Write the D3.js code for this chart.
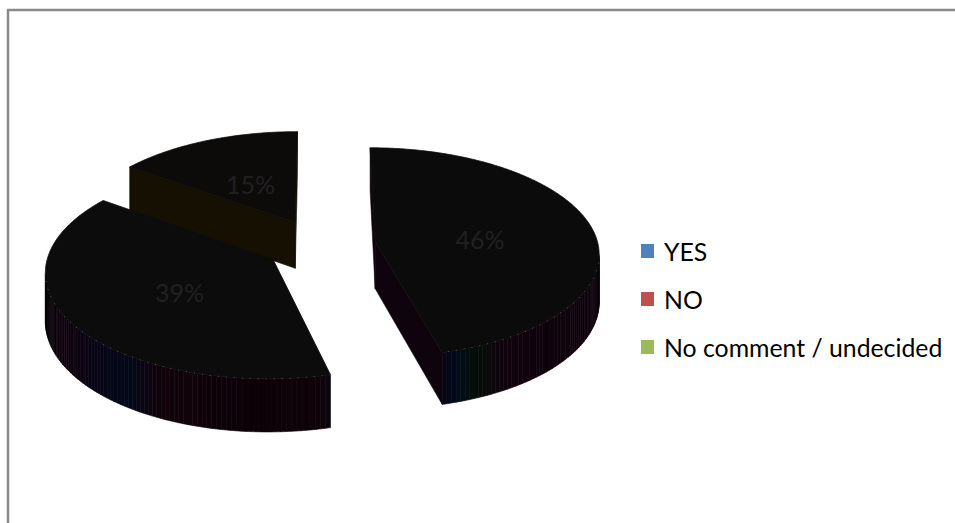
<!DOCTYPE html>
<html>
<head>
<meta charset="utf-8">
<script src="https://cdn.jsdelivr.net/npm/d3@7/dist/d3.min.js"></script>
<style>
  html, body { margin: 0; padding: 0; background: #ffffff; }
  svg { display: block; }
</style>
</head>
<body>
<svg id="chart" width="955" height="523"></svg>
<script>
// Survey answers, shares in percent
const categories = ["YES", "NO", "No comment / undecided"];
const shares = [46, 39, 15];
const shareLabels = ["46%", "39%", "15%"];
const legendColors = ["#4f81bd", "#c0504d", "#9bbb59"];

// 3D slice appearance (very dark rendering)
const topColors = ["#0c0b0b", "#0c0c0c", "#0c0b0a"];
const radialWallColors = ["#0f040d", "#0a0508", "#161003"];

const svg = d3.select("#chart");
const W = 955, H = 523;

// outer frame
svg.append("rect")
  .attr("x", 8).attr("y", 10)
  .attr("width", W + 40).attr("height", H + 40)
  .attr("fill", "none")
  .attr("stroke", "#8a8a8a")
  .attr("stroke-width", 2.5);

// pie geometry, in world units of one radius; Z runs away from the viewer
const Xc = 320, Yc = 245;      // screen position of the pie centre
const rx = 223, ry = 104;      // screen radii of the tilted top face
const persp = 0.1;             // perspective strength
const depth = 47;              // thickness of the pie in pixels
const explode = 0.25;
const labelRadius = 0.48;

const scaleAt = Z => 1 / (1 + persp * Z);
const project = (X, Z, h) => {
  const s = scaleAt(Z);
  return [Xc + rx * X * s, Yc - ry * Z * s + h * s];
};
const camera = [0, -1 / persp];

const pie = d3.pie().sort(null).startAngle(0).endAngle(2 * Math.PI);
const slices = pie(shares).map((d, i) => {
  const mid = (d.startAngle + d.endAngle) / 2;
  return { ...d, i, mid, X: explode * Math.sin(mid), Z: explode * Math.cos(mid) };
});

const rimPoint = (s, a, r, h) => project(s.X + r * Math.sin(a), s.Z + r * Math.cos(a), h);
// a vertical face with outward normal n through world point p faces the viewer
const facing = (n, p) => n[0] * (camera[0] - p[0]) + n[1] * (camera[1] - p[1]) > 0;

// colour of the curved outer wall, varying round the rim
const wallColor = d3.scaleLinear()
  .domain([90, 150, 158, 163, 168, 185, 205, 215, 228, 240, 255, 270].map(v => v * Math.PI / 180))
  .range(["#0d020b", "#10030d", "#021008", "#010a1c", "#0f0309", "#0c0208",
          "#12030b", "#020818", "#0a0414", "#10030f", "#060406", "#050505"])
  .clamp(true);

const line = d3.line();
const layer = svg.append("g");

// paint back-to-front
const order = slices.slice().sort((a, b) => b.Z - a.Z);

order.forEach(s => {
  const g = layer.append("g").attr("class", "slice");
  const a0 = s.startAngle, a1 = s.endAngle;

  // radial cut faces
  const radial = (a, normalAngle) => {
    const n = [Math.sin(normalAngle), Math.cos(normalAngle)];
    if (!facing(n, [s.X, s.Z])) return;
    const col = radialWallColors[s.i];
    const pts = [rimPoint(s, a, 0, 0), rimPoint(s, a, 1, 0), rimPoint(s, a, 1, depth), rimPoint(s, a, 0, depth)];
    g.append("path").attr("d", line(pts) + "Z")
      .attr("fill", col).attr("stroke", col).attr("stroke-width", 0.6);
  };
  radial(a0, a0 - Math.PI / 2);
  radial(a1, a1 + Math.PI / 2);

  // curved outer wall, only the segments turned towards the viewer
  const n = Math.max(4, Math.ceil((a1 - a0) / 0.02));
  const step = (a1 - a0) / n;
  const frontRim = [];
  d3.range(n).forEach(k => {
    const t0 = a0 + k * step, t1 = t0 + step, tm = (t0 + t1) / 2;
    const nrm = [Math.sin(tm), Math.cos(tm)];
    if (!facing(nrm, [s.X + nrm[0], s.Z + nrm[1]])) return;
    const col = wallColor(tm);
    g.append("path")
      .attr("d", line([rimPoint(s, t0, 1, 0), rimPoint(s, t1, 1, 0), rimPoint(s, t1, 1, depth), rimPoint(s, t0, 1, depth)]) + "Z")
      .attr("fill", col).attr("stroke", col).attr("stroke-width", 0.6);
    frontRim.push(rimPoint(s, t0, 1, 0), rimPoint(s, t1, 1, 0));
  });

  // top face
  const m = Math.max(8, Math.ceil((a1 - a0) / 0.01));
  const rim = d3.range(m + 1).map(k => rimPoint(s, a0 + (a1 - a0) * k / m, 1, 0));
  g.append("path")
    .attr("d", line([rimPoint(s, 0, 0, 0), ...rim]) + "Z")
    .attr("fill", topColors[s.i])
    .attr("stroke", topColors[s.i])
    .attr("stroke-width", 0.8);

  // faint speckle along the visible front rim
  if (frontRim.length) {
    g.append("path").attr("d", line(frontRim))
      .attr("fill", "none").attr("stroke", "#9a9a9a")
      .attr("stroke-opacity", 0.5).attr("stroke-width", 1)
      .attr("stroke-dasharray", "1 7");
  }

  // percentage label
  const lp = rimPoint(s, s.mid, labelRadius, 0);
  g.append("text")
    .attr("x", lp[0]).attr("y", lp[1] + 3)
    .attr("text-anchor", "middle")
    .attr("dominant-baseline", "central")
    .attr("font-family", "Lato, 'Open Sans', sans-serif")
    .attr("font-size", 25)
    .attr("fill", "#202020")
    .text(shareLabels[s.i]);
});

// legend
const legendY = d3.scalePoint().domain(categories).range([251, 347]);
const legend = svg.append("g").attr("class", "legend");
categories.forEach((c, i) => {
  const y = legendY(c);
  legend.append("rect")
    .attr("x", 641).attr("y", y - 7)
    .attr("width", 13).attr("height", 14)
    .attr("fill", legendColors[i]);
  legend.append("text")
    .attr("x", 664).attr("y", y)
    .attr("dominant-baseline", "central")
    .attr("font-family", "Lato, 'Open Sans', sans-serif")
    .attr("font-size", 24.8)
    .attr("fill", "#000")
    .text(c);
});
</script>
</body>
</html>
